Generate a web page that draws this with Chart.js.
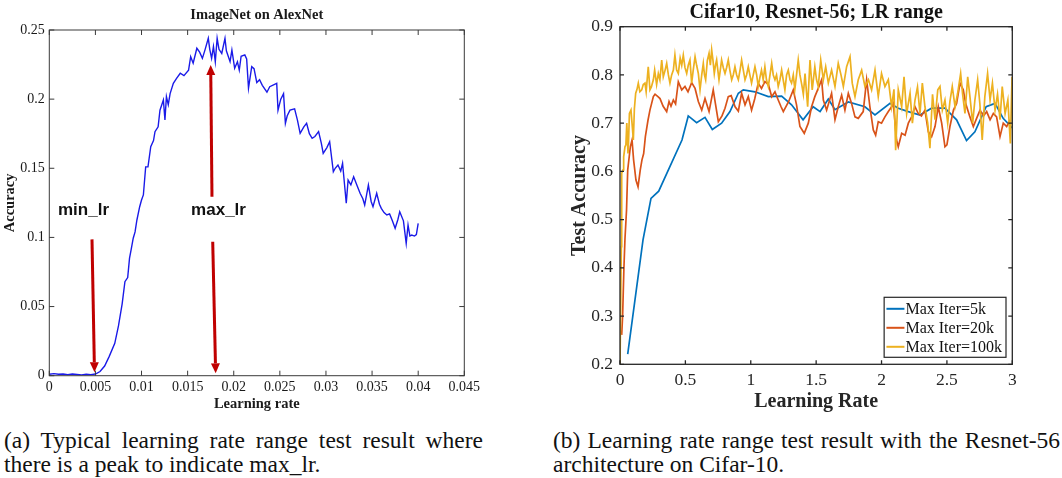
<!DOCTYPE html>
<html><head><meta charset="utf-8">
<script src="https://cdn.jsdelivr.net/npm/chart.js@4.4.1/dist/chart.umd.min.js"></script>
<style>
html,body{margin:0;padding:0;background:#fff;width:1062px;height:478px;overflow:hidden;}
#wrapA{position:absolute;left:0;top:0;width:490px;height:420px;}
#wrapB{position:absolute;left:560px;top:0;width:502px;height:420px;}
.cap{position:absolute;font-family:"Liberation Serif","Times New Roman",serif;font-size:23.5px;line-height:24px;color:#111;white-space:nowrap;}
.just{text-align:justify;text-align-last:justify;white-space:normal;}
</style></head>
<body>
<div id="wrapA"><canvas id="cA"></canvas></div>
<div id="wrapB"><canvas id="cB"></canvas></div>
<div class="cap just" style="left:4px;top:428px;width:479px">(a) Typical learning rate range test result where</div>
<div class="cap" style="left:4px;top:452px">there is a peak to indicate max_lr.</div>
<div class="cap just" style="left:553px;top:428px;width:507px">(b) Learning rate range test result with the Resnet-56</div>
<div class="cap" style="left:553px;top:452px">architecture on Cifar-10.</div>
<script>
// ---------- DATA ----------
const leftTitle = 'ImageNet on AlexNet';
const leftXLabel = 'Learning rate';
const leftYLabel = 'Accuracy';
const leftXTicks = [0,0.005,0.01,0.015,0.02,0.025,0.03,0.035,0.04,0.045];
const leftXTickLabels = ['0','0.005','0.01','0.015','0.02','0.025','0.03','0.035','0.04','0.045'];
const leftYTicks = [0,0.05,0.1,0.15,0.2,0.25];
const leftYTickLabels = ['0','0.05','0.1','0.15','0.2','0.25'];

// [learning rate, accuracy]
const alexnetCurve = [
[0,0.001],[0.0005,0.0015],[0.001,0.001],[0.0015,0.0012],[0.002,0.0008],[0.0025,0.0012],[0.003,0.0009],[0.0035,0.0006],[0.004,0.001],[0.0045,0.0008],
[0.005,0.0012],[0.0055,0.003],[0.006,0.007],[0.0065,0.014],[0.0071,0.0234],[0.0075,0.036],[0.0079,0.052],[0.0082,0.068],[0.0085,0.071],[0.0087,0.085],
[0.0089,0.092],[0.0091,0.0994],[0.0093,0.104],[0.0095,0.1126],[0.0098,0.1222],[0.01,0.127],[0.0102,0.1307],[0.01045,0.151],[0.0107,0.151],[0.011,0.1656],
[0.0113,0.17],[0.01146,0.1765],[0.0118,0.18],[0.012,0.192],[0.01237,0.1994],[0.01254,0.185],[0.0127,0.2018],[0.0129,0.196],[0.0131,0.204],[0.01345,0.2114],
[0.0138,0.215],[0.0142,0.2187],[0.0146,0.217],[0.0151,0.221],[0.01533,0.2307],[0.0156,0.226],[0.016,0.2368],[0.0163,0.234],[0.0166,0.2295],[0.0169,0.236],
[0.01724,0.244],[0.0174,0.236],[0.0176,0.2295],[0.0178,0.238],[0.018,0.2271],[0.0182,0.244],[0.0184,0.236],[0.0187,0.233],[0.01905,0.244],[0.0192,0.235],
[0.0196,0.2271],[0.0198,0.2355],[0.0201,0.2223],[0.0204,0.227],[0.0206,0.221],[0.0208,0.231],[0.0212,0.232],[0.0214,0.229],[0.0216,0.208],[0.02195,0.2235],
[0.0222,0.222],[0.0225,0.212],[0.0228,0.214],[0.0231,0.21],[0.0236,0.205],[0.0239,0.209],[0.02466,0.2114],[0.0248,0.192],[0.0251,0.2],[0.0254,0.204],
[0.0256,0.1825],[0.0258,0.188],[0.0261,0.192],[0.0266,0.193],[0.0269,0.185],[0.0272,0.1753],[0.0276,0.18],[0.0279,0.1825],[0.0282,0.175],[0.0285,0.1717],
[0.0288,0.173],[0.0292,0.1765],[0.0295,0.168],[0.0297,0.1608],[0.0301,0.165],[0.0304,0.1692],[0.0308,0.1475],[0.031,0.15],[0.0313,0.1524],[0.0316,0.148],
[0.0318,0.1536],[0.0322,0.1247],[0.0324,0.1415],[0.0327,0.138],[0.033,0.1439],[0.0334,0.137],[0.0337,0.1319],[0.034,0.128],[0.0342,0.1234],[0.0346,0.1379],
[0.0349,0.126],[0.0351,0.1222],[0.0355,0.1319],[0.0358,0.124],[0.036,0.121],[0.0363,0.118],[0.0366,0.1162],[0.0369,0.117],[0.0372,0.112],[0.0375,0.1066],
[0.0378,0.113],[0.038,0.1186],[0.0384,0.112],[0.0387,0.0957],[0.0389,0.109],[0.0391,0.101],[0.0393,0.1017],[0.0396,0.101],[0.0398,0.102],[0.04,0.1102]
];
// arrows: [x start, y start, x tip, y tip] in data units
const arrowSegments = [
  [0.00463,0.0986,0.0049,0.0025],
  [0.01772,0.0969,0.01804,0.0017],
  [0.01764,0.1294,0.0175,0.2247]
];
// annotation labels: [text, x centre, baseline y] in data units
const arrowLabels = [['min_lr',0.00371,0.1162],['max_lr',0.01835,0.1162]];

const rightTitle = 'Cifar10, Resnet-56; LR range';
const rightXLabel = 'Learning Rate';
const rightYLabel = 'Test Accuracy';
const rightXTicks = [0,0.5,1,1.5,2,2.5,3];
const rightXTickLabels = ['0','0.5','1','1.5','2','2.5','3'];
const rightYTicks = [0.2,0.3,0.4,0.5,0.6,0.7,0.8,0.9];
const rightYTickLabels = ['0.2','0.3','0.4','0.5','0.6','0.7','0.8','0.9'];
const seriesNames = ['Max Iter=5k','Max Iter=20k','Max Iter=100k'];

const iter5k = [
[0.059,0.221],[0.176,0.458],[0.237,0.544],[0.296,0.559],[0.474,0.665],[0.522,0.715],[0.586,0.701],[0.65,0.712],[0.706,0.687],[0.777,0.70],
[0.841,0.724],[0.905,0.762],[0.943,0.769],[1.032,0.765],[1.134,0.755],[1.236,0.756],[1.312,0.738],[1.40,0.707],[1.477,0.734],[1.53,0.724],
[1.593,0.75],[1.644,0.728],[1.746,0.744],[1.873,0.734],[1.95,0.717],[2.065,0.741],[2.128,0.731],[2.205,0.724],[2.294,0.717],[2.383,0.731],
[2.485,0.731],[2.574,0.707],[2.65,0.664],[2.714,0.682],[2.80,0.734],[2.868,0.741],[2.93,0.71],[3.0,0.69]
];
const iter20k = [
[0.013,0.261],[0.02,0.30],[0.03,0.40],[0.038,0.46],[0.05,0.52],[0.059,0.603],[0.079,0.651],[0.092,0.665],[0.104,0.624],[0.122,0.582],
[0.138,0.568],[0.155,0.603],[0.168,0.624],[0.181,0.637],[0.194,0.672],[0.214,0.706],[0.229,0.727],[0.255,0.755],[0.268,0.76],[0.29,0.755],
[0.306,0.751],[0.33,0.735],[0.357,0.724],[0.375,0.745],[0.39,0.735],[0.408,0.748],[0.425,0.74],[0.446,0.786],[0.472,0.769],[0.497,0.776],
[0.52,0.765],[0.548,0.784],[0.574,0.772],[0.599,0.745],[0.625,0.727],[0.65,0.751],[0.681,0.724],[0.713,0.769],[0.73,0.74],[0.752,0.703],
[0.78,0.715],[0.803,0.731],[0.828,0.755],[0.85,0.757],[0.88,0.734],[0.905,0.725],[0.93,0.762],[0.956,0.738],[0.981,0.755],[1.006,0.727],
[1.03,0.75],[1.057,0.783],[1.082,0.772],[1.108,0.786],[1.135,0.78],[1.16,0.755],[1.185,0.765],[1.21,0.748],[1.23,0.735],[1.249,0.724],
[1.29,0.745],[1.325,0.769],[1.35,0.738],[1.376,0.693],[1.409,0.679],[1.44,0.70],[1.465,0.734],[1.49,0.755],[1.516,0.772],[1.542,0.79],
[1.555,0.748],[1.58,0.727],[1.618,0.762],[1.644,0.707],[1.669,0.734],[1.695,0.758],[1.72,0.727],[1.746,0.762],[1.771,0.741],[1.797,0.713],
[1.822,0.71],[1.86,0.724],[1.886,0.79],[1.911,0.734],[1.937,0.686],[1.955,0.675],[1.975,0.703],[2.0,0.70],[2.026,0.713],[2.052,0.724],
[2.077,0.734],[2.09,0.741],[2.115,0.665],[2.128,0.651],[2.154,0.679],[2.18,0.675],[2.205,0.70],[2.23,0.713],[2.256,0.734],[2.281,0.72],
[2.305,0.715],[2.332,0.727],[2.358,0.682],[2.383,0.672],[2.409,0.693],[2.434,0.734],[2.46,0.70],[2.485,0.651],[2.50,0.655],[2.523,0.693],
[2.55,0.727],[2.574,0.741],[2.6,0.783],[2.625,0.769],[2.643,0.741],[2.676,0.713],[2.702,0.693],[2.727,0.71],[2.753,0.727],[2.78,0.715],
[2.804,0.724],[2.83,0.707],[2.855,0.72],[2.88,0.713],[2.906,0.672],[2.931,0.70],[2.957,0.693],[2.983,0.707]
];
const iter100k = [
[0.0,0.195],[0.01,0.444],[0.013,0.596],[0.023,0.603],[0.028,0.63],[0.038,0.651],[0.045,0.655],[0.052,0.70],[0.061,0.637],[0.064,0.65],
[0.072,0.72],[0.084,0.727],[0.092,0.70],[0.102,0.665],[0.11,0.73],[0.12,0.762],[0.13,0.77],[0.14,0.783],[0.152,0.765],[0.166,0.769],
[0.178,0.78],[0.191,0.783],[0.2,0.765],[0.216,0.817],[0.229,0.769],[0.24,0.775],[0.255,0.79],[0.265,0.81],[0.28,0.78],[0.293,0.803],
[0.305,0.79],[0.319,0.831],[0.331,0.796],[0.345,0.81],[0.357,0.824],[0.37,0.80],[0.382,0.783],[0.395,0.80],[0.408,0.81],[0.42,0.841],
[0.433,0.81],[0.446,0.803],[0.46,0.835],[0.472,0.82],[0.484,0.841],[0.497,0.815],[0.51,0.803],[0.522,0.82],[0.535,0.831],[0.548,0.783],
[0.56,0.81],[0.574,0.838],[0.586,0.82],[0.599,0.803],[0.612,0.769],[0.625,0.80],[0.637,0.824],[0.646,0.80],[0.655,0.79],[0.668,0.83],
[0.681,0.845],[0.691,0.82],[0.701,0.852],[0.711,0.83],[0.721,0.803],[0.73,0.82],[0.739,0.831],[0.748,0.81],[0.757,0.79],[0.767,0.81],
[0.777,0.831],[0.79,0.815],[0.803,0.803],[0.815,0.815],[0.828,0.831],[0.84,0.81],[0.854,0.79],[0.866,0.80],[0.879,0.817],[0.892,0.80],
[0.905,0.79],[0.918,0.81],[0.93,0.831],[0.943,0.81],[0.956,0.79],[0.968,0.80],[0.981,0.817],[0.993,0.80],[1.006,0.783],[1.019,0.80],
[1.032,0.817],[1.045,0.80],[1.057,0.776],[1.07,0.795],[1.082,0.81],[1.095,0.79],[1.108,0.817],[1.12,0.79],[1.134,0.776],[1.147,0.80],
[1.16,0.824],[1.172,0.80],[1.185,0.79],[1.197,0.80],[1.21,0.776],[1.223,0.79],[1.236,0.81],[1.248,0.79],[1.261,0.769],[1.274,0.80],
[1.287,0.81],[1.30,0.79],[1.312,0.783],[1.325,0.80],[1.337,0.77],[1.35,0.80],[1.363,0.831],[1.376,0.80],[1.39,0.78],[1.402,0.76],
[1.415,0.803],[1.435,0.734],[1.453,0.831],[1.47,0.769],[1.49,0.817],[1.503,0.79],[1.516,0.776],[1.535,0.831],[1.555,0.79],[1.573,0.817],
[1.593,0.783],[1.618,0.81],[1.644,0.776],[1.669,0.824],[1.69,0.80],[1.708,0.776],[1.733,0.817],[1.759,0.838],[1.776,0.783],[1.797,0.755],
[1.822,0.79],[1.848,0.81],[1.873,0.776],[1.90,0.79],[1.924,0.769],[1.95,0.81],[1.975,0.755],[2.0,0.803],[2.026,0.776],[2.052,0.79],
[2.077,0.734],[2.095,0.77],[2.108,0.644],[2.128,0.769],[2.154,0.734],[2.172,0.796],[2.192,0.72],[2.218,0.762],[2.236,0.70],[2.256,0.748],
[2.275,0.775],[2.294,0.72],[2.312,0.783],[2.332,0.734],[2.353,0.70],[2.37,0.648],[2.39,0.76],[2.409,0.707],[2.43,0.769],[2.447,0.776],
[2.465,0.727],[2.485,0.748],[2.506,0.70],[2.523,0.745],[2.541,0.776],[2.562,0.734],[2.582,0.762],[2.605,0.803],[2.62,0.76],[2.638,0.72],
[2.659,0.796],[2.676,0.755],[2.697,0.70],[2.714,0.748],[2.735,0.79],[2.752,0.74],[2.77,0.665],[2.79,0.755],[2.811,0.803],[2.83,0.748],
[2.848,0.783],[2.868,0.727],[2.887,0.76],[2.906,0.707],[2.923,0.776],[2.945,0.72],[2.966,0.748],[2.985,0.658],[2.998,0.796]
];

// ---------- HELPERS / PLUGINS ----------
const serif = '"Liberation Serif","Times New Roman",serif';
const toPts = arr => arr.map(p => ({x:p[0], y:p[1]}));
const fixTicks = vals => function(scale){ scale.ticks = vals.map(v => ({value:v})); };
const labelFrom = (vals, labels) => function(value){ const i = vals.indexOf(value); return i >= 0 ? labels[i] : ''; };

const framePlugin = {
  id:'frame',
  afterDatasetsDraw(chart, args, o){
    const {ctx, chartArea:a} = chart;
    const x = chart.scales.x, y = chart.scales.y;
    ctx.save();
    ctx.strokeStyle = o.color; ctx.lineWidth = o.width;
    ctx.beginPath();
    x.ticks.forEach(t => { const p = x.getPixelForValue(t.value);
      ctx.moveTo(p, a.bottom); ctx.lineTo(p, a.bottom - o.len);
      ctx.moveTo(p, a.top); ctx.lineTo(p, a.top + o.len); });
    y.ticks.forEach(t => { const p = y.getPixelForValue(t.value);
      ctx.moveTo(a.left, p); ctx.lineTo(a.left + o.len, p);
      ctx.moveTo(a.right, p); ctx.lineTo(a.right - o.len, p); });
    ctx.stroke();
    ctx.strokeRect(a.left, a.top, a.right - a.left, a.bottom - a.top);
    ctx.restore();
  }
};

const arrowPlugin = {
  id:'arrows',
  afterDatasetsDraw(chart, args, o){
    const {ctx} = chart; const x = chart.scales.x, y = chart.scales.y;
    ctx.save();
    ctx.strokeStyle = o.color; ctx.fillStyle = o.color; ctx.lineWidth = o.width;
    arrowSegments.forEach(s => {
      const x0 = x.getPixelForValue(s[0]), y0 = y.getPixelForValue(s[1]);
      const x1 = x.getPixelForValue(s[2]), y1 = y.getPixelForValue(s[3]);
      const ang = Math.atan2(y1 - y0, x1 - x0);
      const bx = x1 - Math.cos(ang) * o.head, by = y1 - Math.sin(ang) * o.head;
      ctx.beginPath(); ctx.moveTo(x0, y0); ctx.lineTo(bx, by); ctx.stroke();
      ctx.beginPath(); ctx.moveTo(x1, y1);
      ctx.lineTo(bx + Math.sin(ang) * o.half, by - Math.cos(ang) * o.half);
      ctx.lineTo(bx - Math.sin(ang) * o.half, by + Math.cos(ang) * o.half);
      ctx.closePath(); ctx.fill();
    });
    ctx.fillStyle = o.textColor; ctx.font = o.font; ctx.textAlign = 'center'; ctx.textBaseline = 'alphabetic';
    arrowLabels.forEach(l => ctx.fillText(l[0], x.getPixelForValue(l[1]), y.getPixelForValue(l[2])));
    ctx.restore();
  }
};

const legendPlugin = {
  id:'boxLegend',
  afterDraw(chart, args, o){
    const {ctx, chartArea:a} = chart; const ds = chart.data.datasets;
    ctx.save(); ctx.font = o.font;
    const tw = Math.max(...ds.map(d => ctx.measureText(d.label).width));
    const w = o.padL + o.lineLen + o.gap + tw + o.padR;
    const h = o.padT + o.rowH * ds.length + o.padB;
    const x0 = a.right - o.marginR - w, y0 = a.bottom - o.marginB - h;
    ctx.fillStyle = '#fff'; ctx.fillRect(x0, y0, w, h);
    ctx.strokeStyle = o.border; ctx.lineWidth = o.borderWidth; ctx.strokeRect(x0, y0, w, h);
    ds.forEach((d, i) => {
      const cy = y0 + o.padT + o.rowH * (i + 0.5);
      ctx.strokeStyle = d.borderColor; ctx.lineWidth = 2;
      ctx.beginPath(); ctx.moveTo(x0 + o.padL, cy); ctx.lineTo(x0 + o.padL + o.lineLen, cy); ctx.stroke();
      ctx.fillStyle = o.textColor; ctx.textAlign = 'left'; ctx.textBaseline = 'middle';
      ctx.fillText(d.label, x0 + o.padL + o.lineLen + o.gap, cy + 0.5);
    });
    ctx.restore();
  }
};

// ---------- LEFT CHART ----------
new Chart(document.getElementById('cA'), {
  type:'line',
  data:{ datasets:[{ label:leftTitle, data:toPts(alexnetCurve), borderColor:'#1a1ae8', borderWidth:1.4,
    pointRadius:0, tension:0, fill:false }] },
  options:{
    responsive:true, maintainAspectRatio:false, animation:false,
    layout:{ padding:{ left:0, top:0, right:25.7, bottom:0 } },
    plugins:{
      legend:{display:false}, tooltip:{enabled:false},
      title:{ display:true, text:leftTitle, fullSize:false, color:'#1a1a1a',
        font:{ family:serif, size:14.5, weight:'bold', lineHeight:1 }, padding:{top:7.85, bottom:7.65} },
      frame:{ color:'#3a3a3a', width:1, len:5 },
      arrows:{ color:'#c00000', textColor:'#111', width:3, head:10, half:4.5, font:'bold 17px "Liberation Sans", Arial, sans-serif' }
    },
    scales:{
      x:{ type:'linear', min:0, max:0.045,
        afterBuildTicks: fixTicks(leftXTicks),
        afterFit(s){ s.height = 44.3; s.paddingLeft = 0; s.paddingRight = 0; },
        grid:{ display:false, drawTicks:false }, border:{ display:false },
        ticks:{ callback: labelFrom(leftXTicks, leftXTickLabels), color:'#1a1a1a', padding:3.4, maxRotation:0, autoSkip:false,
          font:{ family:serif, size:14 } },
        title:{ display:true, text:leftXLabel, color:'#1a1a1a', font:{ family:serif, size:14.5, weight:'bold' }, padding:{top:0, bottom:7.3} }
      },
      y:{ type:'linear', min:0, max:0.25,
        afterBuildTicks: fixTicks(leftYTicks),
        afterFit(s){ s.width = 49.3; s.paddingTop = 0; s.paddingBottom = 0; },
        grid:{ display:false, drawTicks:false }, border:{ display:false },
        ticks:{ callback: labelFrom(leftYTicks, leftYTickLabels), color:'#1a1a1a', padding:4.6, autoSkip:false,
          font:{ family:serif, size:14 } },
        title:{ display:true, text:leftYLabel, color:'#1a1a1a', font:{ family:serif, size:14.5, weight:'bold' }, padding:{top:1.2, bottom:0} }
      }
    }
  },
  plugins:[framePlugin, arrowPlugin]
});

// ---------- RIGHT CHART ----------
const matlab = ['#0072BD','#D95319','#EDB120'];
new Chart(document.getElementById('cB'), {
  type:'line',
  data:{ datasets:[
    { label:seriesNames[0], data:toPts(iter5k), borderColor:matlab[0], borderWidth:1.7, pointRadius:0, tension:0, fill:false, order:3 },
    { label:seriesNames[1], data:toPts(iter20k), borderColor:matlab[1], borderWidth:1.7, pointRadius:0, tension:0, fill:false, order:2 },
    { label:seriesNames[2], data:toPts(iter100k), borderColor:matlab[2], borderWidth:1.7, pointRadius:0, tension:0, fill:false, order:1 }
  ]},
  options:{
    responsive:true, maintainAspectRatio:false, animation:false,
    layout:{ padding:{ left:0, top:0, right:49.7, bottom:0 } },
    plugins:{
      legend:{display:false}, tooltip:{enabled:false},
      title:{ display:true, text:rightTitle, fullSize:false, color:'#111',
        font:{ family:serif, size:20, weight:'bold', lineHeight:1 }, padding:{top:2.5, bottom:4.2} },
      frame:{ color:'#262626', width:1.3, len:4 },
      boxLegend:{ font:'16px "Liberation Serif", "Times New Roman", serif', textColor:'#111', border:'#262626', borderWidth:1.2,
        padL:2.3, lineLen:18, gap:1, padR:4, padT:2, padB:1, rowH:19, marginR:6.3, marginB:7 }
    },
    scales:{
      x:{ type:'linear', min:0, max:3,
        afterBuildTicks: fixTicks(rightXTicks),
        afterFit(s){ s.height = 55.7; s.paddingLeft = 0; s.paddingRight = 0; },
        grid:{ display:false, drawTicks:false }, border:{ display:false },
        ticks:{ callback: labelFrom(rightXTicks, rightXTickLabels), color:'#262626', padding:5.5, maxRotation:0, autoSkip:false,
          font:{ family:serif, size:17.5 } },
        title:{ display:true, text:rightXLabel, color:'#262626', font:{ family:serif, size:20, weight:'bold' }, padding:{top:0, bottom:6.5} }
      },
      y:{ type:'linear', min:0.2, max:0.9,
        afterBuildTicks: fixTicks(rightYTicks),
        afterFit(s){ s.width = 60; s.paddingTop = 0; s.paddingBottom = 0; },
        grid:{ display:false, drawTicks:false }, border:{ display:false },
        ticks:{ callback: labelFrom(rightYTicks, rightYTickLabels), color:'#262626', padding:7, autoSkip:false,
          font:{ family:serif, size:17.5 } },
        title:{ display:true, text:rightYLabel, color:'#262626', font:{ family:serif, size:20, weight:'bold' }, padding:{top:8, bottom:0} }
      }
    }
  },
  plugins:[framePlugin, legendPlugin]
});
</script>
</body></html>
